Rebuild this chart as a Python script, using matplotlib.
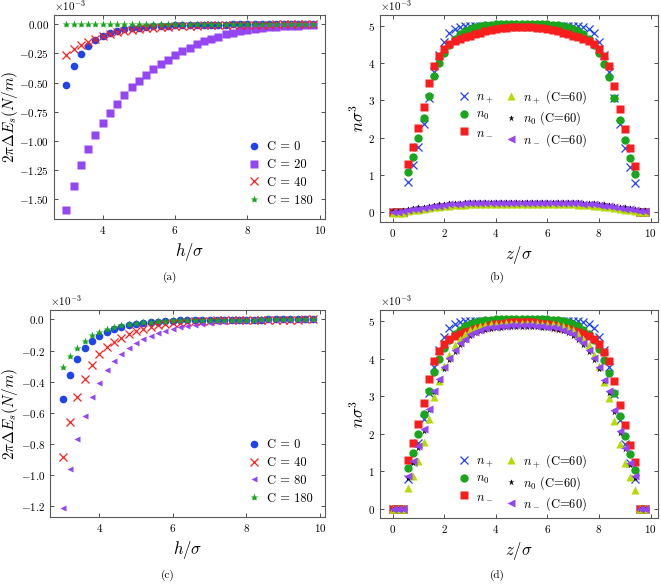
import numpy as np
from matplotlib import pyplot as plt
from matplotlib.ticker import MultipleLocator

plt.rcParams['font.family'] = 'cmr10'
plt.rcParams['mathtext.fontset'] = 'cm'
plt.rcParams['axes.formatter.use_mathtext'] = True

# separation h/sigma, panels (a) and (c)
h = [3.0, 3.2, 3.4, 3.6, 3.8, 4.0, 4.2, 4.4, 4.6, 4.8, 5.0, 5.2, 5.4, 5.6, 5.8,
     6.0, 6.2, 6.4, 6.6, 6.8, 7.0, 7.2, 7.4, 7.6, 7.8, 8.0, 8.2, 8.4, 8.6, 8.8,
     9.0, 9.2, 9.4, 9.6, 9.8]

# panel (a), 2 pi dE_s in units of 1e-3 N/m
ea_c0 = [-0.52, -0.36, -0.255, -0.185, -0.135, -0.097, -0.072, -0.054, -0.043, -0.035,
         -0.028, -0.022, -0.018, -0.014, -0.011, -0.009, -0.007, -0.006, -0.005, -0.004,
         -0.003, -0.0025, -0.002, -0.0015, -0.001, -0.001, -0.0008, -0.0006, -0.0005, -0.0004,
         -0.0003, -0.0002, -0.0002, -0.0001, -0.0001]
ea_c20 = [-1.59, -1.385, -1.21, -1.073, -0.952, -0.848, -0.759, -0.68, -0.606, -0.542,
          -0.49, -0.436, -0.387, -0.343, -0.306, -0.265, -0.23, -0.2, -0.173, -0.147,
          -0.127, -0.107, -0.087, -0.072, -0.058, -0.049, -0.04, -0.032, -0.026, -0.02,
          -0.017, -0.014, -0.011, -0.008, -0.005]
ea_c40 = [-0.265, -0.216, -0.18, -0.15, -0.125, -0.1, -0.08, -0.066, -0.055, -0.047,
          -0.04, -0.034, -0.029, -0.025, -0.021, -0.018, -0.015, -0.013, -0.011, -0.009,
          -0.008, -0.007, -0.006, -0.005, -0.004, -0.0035, -0.003, -0.0025, -0.002, -0.0017,
          -0.0014, -0.0012, -0.001, -0.0008, -0.0006]
ea_c180 = [0.0] * 35

# panel (c)
ec_c0 = [-0.514, -0.358, -0.253, -0.182, -0.139, -0.105, -0.079, -0.06, -0.047, -0.036,
         -0.029, -0.023, -0.018, -0.014, -0.011, -0.009, -0.007, -0.006, -0.005, -0.004,
         -0.003, -0.0025, -0.002, -0.0015, -0.001, -0.001, -0.0008, -0.0006, -0.0005, -0.0004,
         -0.0003, -0.0002, -0.0002, -0.0001, -0.0001]
ec_c40 = [-0.885, -0.66, -0.5, -0.38, -0.29, -0.223, -0.176, -0.146, -0.118, -0.092,
          -0.077, -0.06, -0.047, -0.038, -0.031, -0.025, -0.02, -0.016, -0.013, -0.011,
          -0.009, -0.007, -0.006, -0.005, -0.004, -0.003, -0.0025, -0.002, -0.0016, -0.0013,
          -0.001, -0.0008, -0.0006, -0.0005, -0.0004]
ec_c80 = [-1.21, -0.964, -0.77, -0.62, -0.5, -0.407, -0.328, -0.268, -0.22, -0.182,
          -0.15, -0.128, -0.107, -0.09, -0.075, -0.062, -0.051, -0.043, -0.034, -0.028,
          -0.023, -0.019, -0.015, -0.012, -0.01, -0.008, -0.0065, -0.005, -0.004, -0.0032,
          -0.0025, -0.002, -0.0015, -0.0012, -0.001]
ec_c180 = [-0.306, -0.236, -0.182, -0.139, -0.103, -0.081, -0.064, -0.049, -0.036, -0.03,
           -0.024, -0.019, -0.015, -0.012, -0.009, -0.007, -0.006, -0.005, -0.004, -0.003,
           -0.0025, -0.002, -0.0015, -0.001, -0.001, -0.0008, -0.0006, -0.0005, -0.0004, -0.0003,
           -0.0002, -0.0002, -0.0001, -0.0001, 0.0]

# position z/sigma, panels (b) and (d)
z = [0.0, 0.2, 0.4, 0.6, 0.8, 1.0, 1.2, 1.4, 1.6, 1.8, 2.0, 2.2, 2.4, 2.6, 2.8,
     3.0, 3.2, 3.4, 3.6, 3.8, 4.0, 4.2, 4.4, 4.6, 4.8, 5.0, 5.2, 5.4, 5.6, 5.8,
     6.0, 6.2, 6.4, 6.6, 6.8, 7.0, 7.2, 7.4, 7.6, 7.8, 8.0, 8.2, 8.4, 8.6, 8.8,
     9.0, 9.2, 9.4, 9.6, 9.8]

# densities in units of 1e-3
n_plus = [0, 0, 0, 0.80, 1.25, 1.76, 2.38, 3.08, 3.78, 4.23, 4.57, 4.82, 4.93, 4.98, 5.0,
          5.01, 5.02, 5.02, 5.02, 5.02, 5.02, 5.02, 5.02, 5.02, 5.02, 5.02, 5.02, 5.02, 5.02, 5.02,
          5.02, 5.02, 5.02, 5.02, 5.02, 5.01, 5.0, 4.98, 4.93, 4.82, 4.57, 4.23, 3.78, 3.06, 2.36,
          1.73, 1.21, 0.78, 0, 0]
n_zero = [0, 0, 0, 1.08, 1.49, 1.98, 2.52, 3.13, 3.66, 4.0, 4.28, 4.5, 4.66, 4.78, 4.87,
          4.93, 4.98, 5.01, 5.03, 5.04, 5.05, 5.05, 5.05, 5.05, 5.05, 5.05, 5.05, 5.05, 5.05, 5.05,
          5.05, 5.04, 5.03, 5.01, 4.98, 4.93, 4.87, 4.78, 4.66, 4.5, 4.27, 3.98, 3.62, 3.08, 2.47,
          1.93, 1.45, 1.03, 0, 0]
n_minus = [0, 0, 0, 1.29, 1.76, 2.27, 2.83, 3.46, 3.94, 4.2, 4.4, 4.52, 4.6, 4.66, 4.71,
           4.75, 4.79, 4.83, 4.86, 4.89, 4.92, 4.94, 4.96, 4.97, 4.98, 4.98, 4.98, 4.97, 4.96, 4.94,
           4.92, 4.89, 4.86, 4.83, 4.79, 4.75, 4.71, 4.66, 4.6, 4.52, 4.4, 4.19, 3.93, 3.4, 2.77,
           2.22, 1.71, 1.23, 0, 0]

# C=60, panel (b)
b_plus60 = [-0.02, -0.02, -0.02, 0.01, 0.04, 0.06, 0.08, 0.1, 0.12, 0.14, 0.16, 0.17, 0.18, 0.19, 0.195,
            0.2, 0.2, 0.2, 0.2, 0.2, 0.2, 0.2, 0.2, 0.2, 0.2, 0.2, 0.2, 0.2, 0.2, 0.2,
            0.2, 0.2, 0.2, 0.2, 0.2, 0.2, 0.195, 0.19, 0.18, 0.17, 0.16, 0.14, 0.12, 0.1, 0.08,
            0.06, 0.04, 0.02, 0.0, -0.01]
b_zero60 = [0.01, 0.02, 0.04, 0.07, 0.1, 0.12, 0.14, 0.16, 0.18, 0.2, 0.22, 0.23, 0.24, 0.25, 0.255,
            0.26, 0.26, 0.26, 0.26, 0.26, 0.26, 0.26, 0.26, 0.26, 0.26, 0.26, 0.26, 0.26, 0.26, 0.26,
            0.26, 0.26, 0.26, 0.26, 0.26, 0.26, 0.255, 0.25, 0.24, 0.23, 0.22, 0.2, 0.18, 0.16, 0.14,
            0.12, 0.1, 0.08, 0.06, 0.05]
b_minus60 = [0.0, 0.0, 0.01, 0.04, 0.07, 0.09, 0.11, 0.13, 0.15, 0.17, 0.19, 0.2, 0.21, 0.22, 0.225,
             0.23, 0.23, 0.23, 0.23, 0.23, 0.23, 0.23, 0.23, 0.23, 0.23, 0.23, 0.23, 0.23, 0.23, 0.23,
             0.23, 0.23, 0.23, 0.23, 0.23, 0.23, 0.225, 0.22, 0.21, 0.2, 0.19, 0.17, 0.15, 0.13, 0.11,
             0.09, 0.07, 0.05, 0.03, 0.02]

# C=60, panel (d)
d_plus60 = [0, 0, 0, 0.56, 0.88, 1.28, 1.79, 2.4, 2.97, 3.41, 3.82, 4.1, 4.37, 4.54, 4.67,
            4.76, 4.83, 4.87, 4.9, 4.92, 4.93, 4.94, 4.95, 4.95, 4.95, 4.95, 4.95, 4.95, 4.95, 4.94,
            4.93, 4.92, 4.9, 4.87, 4.83, 4.76, 4.67, 4.54, 4.37, 4.1, 3.8, 3.38, 2.94, 2.34, 1.72,
            1.22, 0.84, 0.5, 0, 0]
d_zero60 = [0, 0, 0, 0.82, 1.22, 1.63, 2.08, 2.62, 3.1, 3.42, 3.73, 3.97, 4.19, 4.37, 4.5,
            4.61, 4.68, 4.73, 4.77, 4.8, 4.82, 4.83, 4.84, 4.85, 4.85, 4.85, 4.85, 4.85, 4.84, 4.83,
            4.82, 4.8, 4.77, 4.73, 4.68, 4.61, 4.5, 4.37, 4.19, 3.97, 3.73, 3.4, 3.09, 2.58, 2.03,
            1.58, 1.17, 0.81, 0, 0]
d_minus60 = [0, 0, 0, 0.88, 1.26, 1.68, 2.13, 2.67, 3.15, 3.46, 3.77, 4.01, 4.23, 4.41, 4.54,
             4.65, 4.72, 4.77, 4.81, 4.84, 4.86, 4.87, 4.88, 4.89, 4.89, 4.89, 4.89, 4.89, 4.88, 4.87,
             4.86, 4.84, 4.81, 4.77, 4.72, 4.65, 4.54, 4.41, 4.23, 4.01, 3.77, 3.44, 3.13, 2.62, 2.07,
             1.63, 1.21, 0.86, 0, 0]

BLUE = '#1f44ec'
PURPLE = '#9446f2'
RED = '#f81e1e'
GREEN = '#19a61c'
LIME = '#b4dc00'

W, H = 661, 584
fig = plt.figure(figsize=(W / 100, H / 100), dpi=100)


def rect(l, t, r, b):
    return [l / W, 1 - b / H, (r - l) / W, (b - t) / H]


def style(ax):
    ax.ticklabel_format(axis='y', style='sci', scilimits=(-3, -3), useMathText=True)
    ax.tick_params(direction='in', top=True, right=True, labelsize=8,
                   color='0.3', length=3, width=0.7)
    for s in ax.spines.values():
        s.set_color('0.35')
        s.set_linewidth(0.8)
    ax.yaxis.get_offset_text().set_fontsize(8)


s = 1e-3
ax_a = fig.add_axes(rect(54, 15, 325, 219))
ax_b = fig.add_axes(rect(380, 15, 658, 222))
ax_c = fig.add_axes(rect(50, 310, 325, 517))
ax_d = fig.add_axes(rect(380, 310, 658, 518))

# (a)
ax_a.plot(h, np.array(ea_c0) * s, 'o', ms=5.5, color=BLUE, mec='none', label='C = 0')
ax_a.plot(h, np.array(ea_c20) * s, 's', ms=5.5, color=PURPLE, mec='none', label='C = 20')
ax_a.plot(h, np.array(ea_c40) * s, 'x', ms=5.5, color=RED, mew=0.9, label='C = 40')
ax_a.plot(h, np.array(ea_c180) * s, '*', ms=6, color=GREEN, mec='none', label='C = 180')
ax_a.yaxis.set_major_locator(MultipleLocator(0.25e-3))
ax_a.set_xticks([4, 6, 8, 10])

# (c)
ax_c.plot(h, np.array(ec_c0) * s, 'o', ms=5.5, color=BLUE, mec='none', label='C = 0')
ax_c.plot(h, np.array(ec_c40) * s, 'x', ms=6, color=RED, mew=0.9, label='C = 40')
ax_c.plot(h, np.array(ec_c80) * s, '<', ms=4, color=PURPLE, mec='none', label='C = 80')
ax_c.plot(h, np.array(ec_c180) * s, '*', ms=6, color=GREEN, mec='none', label='C = 180')
ax_c.yaxis.set_major_locator(MultipleLocator(0.2e-3))
ax_c.set_xticks([4, 6, 8, 10])

# y-label right edge near x = 20 px
for ax, left, width in ((ax_a, 54, 271), (ax_c, 50, 275)):
    style(ax)
    ax.set_xlabel(r'$h/\sigma$', fontsize=12, labelpad=4)
    ax.set_ylabel(r'$2\pi\Delta E_s(N/m)$', fontsize=11)
    ax.yaxis.set_label_coords((20 - left) / width, 0.5)
    ax.legend(loc='lower right', frameon=False, fontsize=9, handletextpad=0.4,
              handlelength=1.2, labelspacing=0.45, borderaxespad=0.6)

# (b) and (d)
for ax, p60, z60, m60, anchor in ((ax_b, b_plus60, b_zero60, b_minus60, (0.51, 0.5)),
                                  (ax_d, d_plus60, d_zero60, d_minus60, (0.51, 0.17))):
    ax.plot(z, np.array(n_plus) * s, 'x', ms=6, color=BLUE, mew=0.9, label=r'$n_+$')
    ax.plot(z, np.array(n_zero) * s, 'o', ms=6, color=GREEN, mec='none', label=r'$n_0$')
    ax.plot(z, np.array(n_minus) * s, 's', ms=6, color=RED, mec='none', label=r'$n_-$')
    ax.plot(z, np.array(p60) * s, '^', ms=6, color=LIME, mec='none', label=r'$n_+$ (C=60)')
    ax.plot(z, np.array(z60) * s, '*', ms=5, color='black', mec='none', label=r'$n_0$ (C=60)')
    ax.plot(z, np.array(m60) * s, '<', ms=6, color=PURPLE, mec='none', label=r'$n_-$ (C=60)')
    ax.set_xticks([0, 2, 4, 6, 8, 10])
    ax.yaxis.set_major_locator(MultipleLocator(1e-3))
    style(ax)
    ax.set_xlabel(r'$z/\sigma$', fontsize=12, labelpad=4)
    ax.set_ylabel(r'$n\sigma^3$', fontsize=12)
    ax.yaxis.set_label_coords(-0.045, 0.5)
    ax.legend(loc='center', bbox_to_anchor=anchor, ncol=2, frameon=False, fontsize=9,
              handletextpad=0.4, handlelength=1.2, labelspacing=0.3, columnspacing=0.8)

for lab, x, y in (('(a)', 170, 277), ('(b)', 497, 277), ('(c)', 168, 575), ('(d)', 497, 575)):
    fig.text(x / W, 1 - y / H, lab, ha='center', va='center', fontsize=8)

fig.savefig('out.png', dpi=100)
